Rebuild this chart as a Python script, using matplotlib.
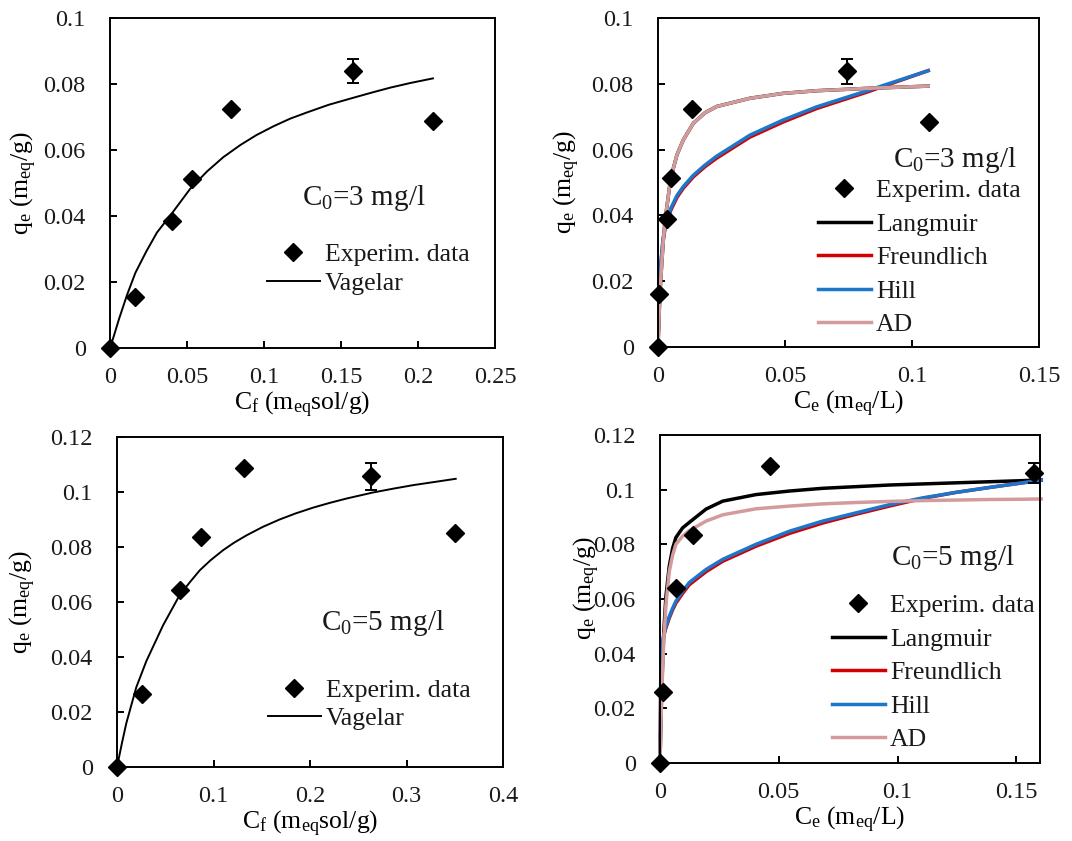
import matplotlib.pyplot as plt

plt.rcParams['font.family'] = ['Liberation Serif', 'DejaVu Serif']
plt.rcParams['mathtext.fontset'] = 'custom'
plt.rcParams['mathtext.rm'] = 'Liberation Serif'
plt.rcParams['mathtext.it'] = 'Liberation Serif:italic'
plt.rcParams['text.color'] = '#1a1a1a'


# -------------------
# DATA
# -------------------
# C0 = 3 mg/l, Vagelar panel
cf3 = [0, 0.0165, 0.0402, 0.0532, 0.0788, 0.1577, 0.2097]
qf3 = [0, 0.0156, 0.0384, 0.0511, 0.0724, 0.0840, 0.0689]
err3 = [0, 0, 0, 0, 0, 0.0037, 0]
vag3_x = [0, 0.0024, 0.006, 0.011, 0.0165, 0.0235, 0.0305, 0.0402, 0.052, 0.063, 0.0735, 0.0846, 0.095,
          0.1062, 0.117, 0.128, 0.142, 0.157, 0.17, 0.182, 0.195, 0.2097]
vag3_y = [0, 0.0035, 0.0090, 0.0160, 0.0228, 0.0292, 0.0350, 0.0408, 0.0482, 0.0535, 0.0578, 0.0615, 0.0645,
          0.0672, 0.0695, 0.0714, 0.0737, 0.0757, 0.0774, 0.0789, 0.0803, 0.0817]

# C0 = 3 mg/l, isotherm panel
ce3 = [0, 0.0005, 0.0037, 0.0050, 0.0133, 0.0744, 0.1068]
qe3 = [0, 0.0162, 0.0388, 0.0513, 0.0723, 0.0838, 0.0685]
erre3 = [0, 0, 0, 0, 0, 0.0038, 0]
iso3_x = [0, 0.0005, 0.001, 0.002, 0.0028, 0.005, 0.0075, 0.01, 0.0139, 0.0185, 0.0231, 0.0362, 0.0493, 0.0625, 0.082, 0.1064]
lang3 = [0, 0.0110, 0.0195, 0.0315, 0.0386, 0.0513, 0.0585, 0.0630, 0.0680, 0.0712, 0.0731, 0.0756, 0.0771, 0.0779, 0.0786, 0.0793]
freu3 = [0, 0.0175, 0.0240, 0.0325, 0.0360, 0.0415, 0.0455, 0.0483, 0.0517, 0.0548, 0.0574, 0.0638, 0.0684, 0.0725, 0.0774, 0.0840]
hill3 = [0, 0.0180, 0.0245, 0.0330, 0.0366, 0.0421, 0.0461, 0.0488, 0.0522, 0.0553, 0.0580, 0.0644, 0.0690, 0.0730, 0.0778, 0.0840]
ad3 = [0, 0.0110, 0.0195, 0.0315, 0.0386, 0.0513, 0.0585, 0.0630, 0.0680, 0.0712, 0.0731, 0.0756, 0.0771, 0.0779, 0.0786, 0.0793]

# C0 = 5 mg/l, Vagelar panel
cf5 = [0, 0.0262, 0.0649, 0.0874, 0.1316, 0.2635, 0.350]
qf5 = [0, 0.0265, 0.0644, 0.0835, 0.1087, 0.1057, 0.0850]
err5 = [0, 0, 0, 0, 0, 0.0050, 0]
vag5_x = [0, 0.005, 0.0097, 0.02, 0.0304, 0.0477, 0.0649, 0.0755, 0.0857, 0.097, 0.1098, 0.121, 0.134, 0.151,
          0.1685, 0.185, 0.2031, 0.22, 0.2376, 0.265, 0.286, 0.307, 0.33, 0.351]
vag5_y = [0, 0.0085, 0.0160, 0.0290, 0.0385, 0.0515, 0.0625, 0.0672, 0.0715, 0.0752, 0.0788, 0.0815, 0.0842, 0.0873,
          0.0900, 0.0922, 0.0943, 0.0960, 0.0976, 0.0998, 0.1012, 0.1025, 0.1037, 0.1048]

# C0 = 5 mg/l, isotherm panel
ce5 = [0, 0.0013, 0.0067, 0.0138, 0.0463, 0.1575]
qe5 = [0, 0.0260, 0.0639, 0.0835, 0.1087, 0.1060]
erre5 = [0, 0, 0, 0, 0, 0.0037]
iso5_x = [0, 0.0003, 0.0008, 0.0016, 0.0025, 0.0039, 0.0053, 0.0067, 0.0095, 0.0123, 0.0194, 0.0264, 0.0404, 0.0545, 0.0685, 0.0825, 0.0966, 0.1106, 0.1246, 0.1387, 0.1527, 0.1605]
lang5 = [0, 0.0120, 0.0290, 0.0480, 0.0610, 0.0720, 0.0785, 0.0825, 0.0860, 0.0880, 0.0929, 0.0958, 0.0982, 0.0995, 0.1005, 0.1011, 0.1017, 0.1021, 0.1025, 0.1029, 0.1033, 0.1036]
freu5 = [0, 0.0290, 0.0415, 0.0465, 0.0495, 0.0530, 0.0560, 0.0585, 0.0620, 0.0652, 0.0700, 0.0738, 0.0793, 0.0840, 0.0878, 0.0910, 0.0940, 0.0968, 0.0990, 0.1008, 0.1025, 0.1035]
hill5 = [0, 0.0300, 0.0420, 0.0470, 0.0500, 0.0536, 0.0566, 0.0592, 0.0628, 0.0660, 0.0708, 0.0745, 0.0800, 0.0848, 0.0885, 0.0915, 0.0945, 0.0970, 0.0990, 0.1008, 0.1025, 0.1035]
ad5 = [0, 0.0110, 0.0270, 0.0450, 0.0580, 0.0700, 0.0760, 0.0800, 0.0830, 0.0850, 0.0885, 0.0908, 0.0930, 0.0940, 0.0948, 0.0953, 0.0957, 0.0960, 0.0962, 0.0964, 0.0965, 0.0966]

ylab = r'q$_\mathrm{e}$ (m$_\mathrm{eq}$/g)'
xlab_f = r'C$_\mathrm{f}$ (m$_\mathrm{eq}$sol/g)'
xlab_e = r'C$_\mathrm{e}$ (m$_\mathrm{eq}$/L)'

COL_L = 'black'
COL_F = '#d40000'
COL_H = '#1c76c9'
COL_AD = '#d39b9b'

TICK_FS = 17.5
LAB_FS = 18.5
LEG_FS = 18.5
C0_FS = 21

W, H = 1072, 841
fig = plt.figure(figsize=(W / 100, H / 100), dpi=100)


def make_ax(l, r, t, b, ylx, yly=0.5):
    ax = fig.add_axes([l / W, 1 - b / H, (r - l) / W, (b - t) / H])
    for s in ax.spines.values():
        s.set_linewidth(1.4)
    ax.tick_params(direction='in', length=5, width=1.4, top=False, right=False,
                   labelsize=TICK_FS, labelcolor='#1a1a1a')
    ax.tick_params(axis='y', pad=17.5)
    ax.tick_params(axis='x', pad=14)
    ax.set_ylabel(ylab, fontsize=LAB_FS)
    ax.yaxis.set_label_coords(ylx, yly)
    return ax


def set_ticks(ax, xt, xl, yt, yl):
    ax.set_xticks(xt)
    ax.set_xticklabels(xl)
    ax.set_yticks(yt)
    ax.set_yticklabels(yl)


def fig_text(x, y, s):
    fig.text(x / W, 1 - y / H, s, fontsize=C0_FS, ha='left', va='baseline')


def legend(ax, handles, labels, x, y, spacing):
    ax.legend(handles, labels, loc='upper left', bbox_to_anchor=(x / W, 1 - y / H),
              bbox_transform=fig.transFigure, frameon=False, borderpad=0, borderaxespad=0,
              handlelength=2.05, handletextpad=0.2, labelspacing=spacing, fontsize=LEG_FS)


def points(ax, x, y, err):
    ax.errorbar(x, y, yerr=err, fmt='none', ecolor='black', capsize=4.5, elinewidth=1.4,
                capthick=1.4, zorder=6, clip_on=False)
    return ax.plot(x, y, 'D', ms=9, color='black', zorder=7, clip_on=False,
                   label='Experim. data')[0]


# -------------------
# PANEL 1
# -------------------
ax1 = make_ax(110, 495, 18, 348, -0.184)
v1, = ax1.plot(vag3_x, vag3_y, color='black', lw=1.4)
p1 = points(ax1, cf3, qf3, err3)
ax1.set_xlim(0, 0.25)
ax1.set_ylim(0, 0.1)
set_ticks(ax1, [0, 0.05, 0.1, 0.15, 0.2, 0.25], ['0', '0.05', '0.1', '0.15', '0.2', '0.25'],
          [0, 0.02, 0.04, 0.06, 0.08, 0.1], ['0', '0.02', '0.04', '0.06', '0.08', '0.1'])
ax1.set_xlabel(xlab_f, fontsize=LAB_FS, labelpad=1)
fig_text(302, 205, r'C$_0$=3 mg/l')
legend(ax1, [p1, v1], ['Experim. data', 'Vagelar'], 267, 243, 0.23)

# -------------------
# PANEL 2
# -------------------
ax2 = make_ax(658, 1039, 18, 347, -0.20)
l2, = ax2.plot(iso3_x, lang3, color=COL_L, lw=2.5)
f2, = ax2.plot(iso3_x, freu3, color=COL_F, lw=2.5)
h2, = ax2.plot(iso3_x, hill3, color=COL_H, lw=2.5)
a2, = ax2.plot(iso3_x, ad3, color=COL_AD, lw=2.5)
p2 = points(ax2, ce3, qe3, erre3)
ax2.set_xlim(0, 0.15)
ax2.set_ylim(0, 0.1)
set_ticks(ax2, [0, 0.05, 0.1, 0.15], ['0', '0.05', '0.1', '0.15'],
          [0, 0.02, 0.04, 0.06, 0.08, 0.1], ['0', '0.02', '0.04', '0.06', '0.08', '0.1'])
ax2.set_xlabel(xlab_e, fontsize=LAB_FS, labelpad=1)
fig_text(893, 167, r'C$_0$=3 mg/l')
legend(ax2, [p2, l2, f2, h2, a2], ['Experim. data', 'Langmuir', 'Freundlich', 'Hill', 'AD'],
       818, 179, 0.41)

# -------------------
# PANEL 3
# -------------------
ax3 = make_ax(117, 503, 437, 767, -0.205)
v3, = ax3.plot(vag5_x, vag5_y, color='black', lw=1.4)
p3 = points(ax3, cf5, qf5, err5)
ax3.set_xlim(0, 0.4)
ax3.set_ylim(0, 0.12)
set_ticks(ax3, [0, 0.1, 0.2, 0.3, 0.4], ['0', '0.1', '0.2', '0.3', '0.4'],
          [0, 0.02, 0.04, 0.06, 0.08, 0.1, 0.12], ['0', '0.02', '0.04', '0.06', '0.08', '0.1', '0.12'])
ax3.set_xlabel(xlab_f, fontsize=LAB_FS, labelpad=1)
fig_text(321, 630, r'C$_0$=5 mg/l')
legend(ax3, [p3, v3], ['Experim. data', 'Vagelar'], 268, 679, 0.18)

# -------------------
# PANEL 4
# -------------------
ax4 = make_ax(660, 1040, 435, 763, -0.153, 0.534)
l4, = ax4.plot(iso5_x, lang5, color=COL_L, lw=2.5, clip_on=False)
f4, = ax4.plot(iso5_x, freu5, color=COL_F, lw=2.5, clip_on=False)
h4, = ax4.plot(iso5_x, hill5, color=COL_H, lw=2.5, clip_on=False)
a4, = ax4.plot(iso5_x, ad5, color=COL_AD, lw=2.5, clip_on=False)
p4 = points(ax4, ce5, qe5, erre5)
ax4.set_xlim(0, 0.16)
ax4.set_ylim(0, 0.12)
set_ticks(ax4, [0, 0.05, 0.1, 0.15], ['0', '0.05', '0.1', '0.15'],
          [0, 0.02, 0.04, 0.06, 0.08, 0.1, 0.12], ['0', '0.02', '0.04', '0.06', '0.08', '0.1', '0.12'])
ax4.set_xlabel(xlab_e, fontsize=LAB_FS, labelpad=1)
fig_text(891, 565, r'C$_0$=5 mg/l')
legend(ax4, [p4, l4, f4, h4, a4], ['Experim. data', 'Langmuir', 'Freundlich', 'Hill', 'AD'],
       832, 594, 0.41)

fig.savefig('out.png', dpi=100)
